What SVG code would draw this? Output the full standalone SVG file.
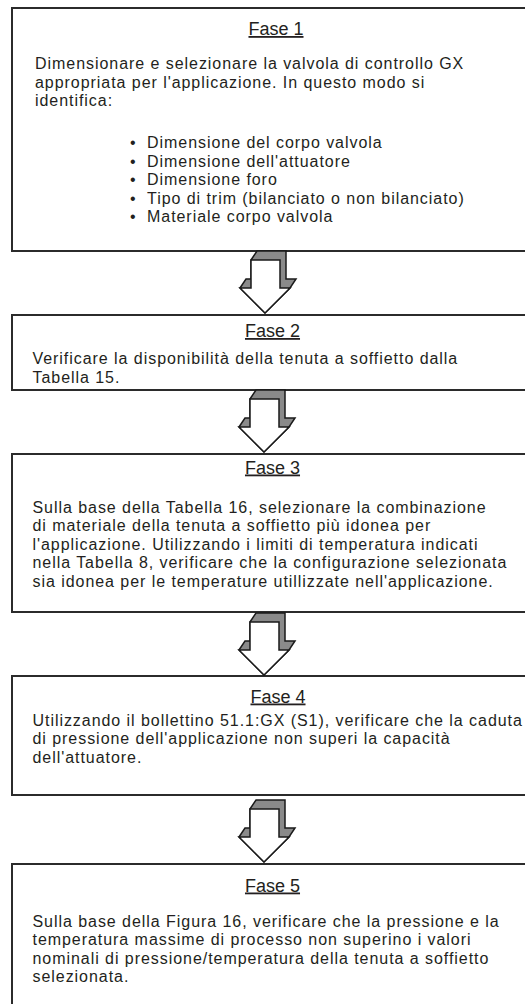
<svg xmlns="http://www.w3.org/2000/svg" xmlns:xlink="http://www.w3.org/1999/xlink" width="525" height="1004" viewBox="0 0 525 1004">
<style>
.box{fill:#fff;stroke:#2b2b2b;stroke-width:2}
.t{font-family:"Liberation Sans",Arial,sans-serif;font-size:16px;letter-spacing:0.95px;fill:#231f20}
.h{font-family:"Liberation Sans",Arial,sans-serif;font-size:18px;fill:#231f20;text-anchor:middle;text-decoration:underline}
.back{fill:#8a8a8a;stroke:#1a1a1a;stroke-width:1.5;stroke-linejoin:miter}
.front{fill:#fff;stroke:#1a1a1a;stroke-width:1.5;stroke-linejoin:miter}
</style>
<defs>
<g id="arrow">
<polygon class="back" points="-14,-53 -8,-62 21,-62 21,-34 31,-34 25,-25 0,0 -25,-25 -19,-34 -14,-34"/>
<polygon class="front" points="-14,-53 15,-53 15,-25 25,-25 0,0 -25,-25 -14,-25"/>
</g>
</defs>
<rect width="525" height="1004" fill="#fff"/>
<g id="fase1">
<rect class="box" x="12" y="8" width="530" height="243"/>
<text class="h" x="276" y="35">Fase 1</text>
<text class="t" x="35" y="69">Dimensionare e selezionare la valvola di controllo GX</text>
<text class="t" x="35" y="87.5">appropriata per l'applicazione. In questo modo si</text>
<text class="t" x="35" y="106">identifica:</text>
<text class="t"><tspan x="130" y="148">•</tspan><tspan x="147" y="148">Dimensione del corpo valvola</tspan></text>
<text class="t"><tspan x="130" y="166.5">•</tspan><tspan x="147" y="166.5">Dimensione dell'attuatore</tspan></text>
<text class="t"><tspan x="130" y="185">•</tspan><tspan x="147" y="185">Dimensione foro</tspan></text>
<text class="t"><tspan x="130" y="203.5">•</tspan><tspan x="147" y="203.5">Tipo di trim (bilanciato o non bilanciato)</tspan></text>
<text class="t"><tspan x="130" y="222">•</tspan><tspan x="147" y="222">Materiale corpo valvola</tspan></text>
</g>
<g id="fase2">
<rect class="box" x="12" y="315" width="530" height="75"/>
<text class="h" x="272.5" y="337">Fase 2</text>
<text class="t" x="32.5" y="364">Verificare la disponibilità della tenuta a soffietto dalla</text>
<text class="t" x="32.5" y="382.5">Tabella 15.</text>
</g>
<g id="fase3">
<rect class="box" x="12" y="454" width="530" height="158"/>
<text class="h" x="272.5" y="473.5">Fase 3</text>
<text class="t" x="32.5" y="512.5">Sulla base della Tabella 16, selezionare la combinazione</text>
<text class="t" x="32.5" y="531">di materiale della tenuta a soffietto più idonea per</text>
<text class="t" x="32.5" y="549.5">l'applicazione. Utilizzando i limiti di temperatura indicati</text>
<text class="t" x="32.5" y="568">nella Tabella 8, verificare che la configurazione selezionata</text>
<text class="t" x="32.5" y="586.5">sia idonea per le temperature utillizzate nell'applicazione.</text>
</g>
<g id="fase4">
<rect class="box" x="12" y="676" width="530" height="119"/>
<text class="h" x="278" y="702.5">Fase 4</text>
<text class="t" x="32.5" y="725.5">Utilizzando il bollettino 51.1:GX (S1), verificare che la caduta</text>
<text class="t" x="32.5" y="744">di pressione dell'applicazione non superi la capacità</text>
<text class="t" x="32.5" y="762.5">dell'attuatore.</text>
</g>
<g id="fase5">
<rect class="box" x="12" y="864" width="530" height="150"/>
<text class="h" x="272.5" y="891.5">Fase 5</text>
<text class="t" x="32.5" y="926.5">Sulla base della Figura 16, verificare che la pressione e la</text>
<text class="t" x="32.5" y="945">temperatura massime di processo non superino i valori</text>
<text class="t" x="32.5" y="963.5">nominali di pressione/temperatura della tenuta a soffietto</text>
<text class="t" x="32.5" y="982">selezionata.</text>
</g>
<g id="connectors">
<use xlink:href="#arrow" transform="translate(265,313)"/>
<use xlink:href="#arrow" transform="translate(264,452)"/>
<use xlink:href="#arrow" transform="translate(264,675)"/>
<use xlink:href="#arrow" transform="translate(264,862)"/>
</g>
</svg>
